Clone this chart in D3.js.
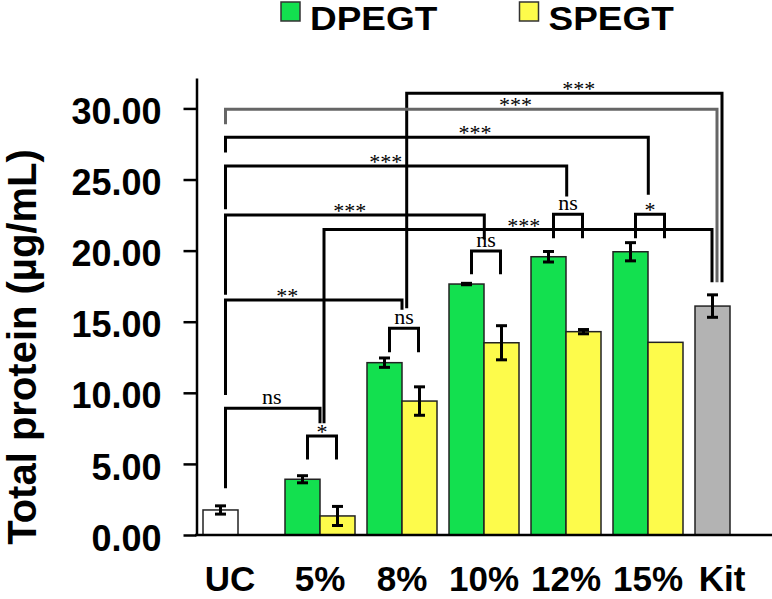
<!DOCTYPE html>
<html>
<head>
<meta charset="utf-8">
<script src="https://cdn.jsdelivr.net/npm/d3@7"></script>
<style>
  html, body { margin: 0; padding: 0; background: #fff; }
  svg { display: block; }
</style>
</head>
<body>
<svg id="chart" width="772" height="599"></svg>
<script>
// ---------------- data ----------------
const categories = ["UC", "5%", "8%", "10%", "12%", "15%", "Kit"];
const seriesNames = ["DPEGT", "SPEGT"];
const groupCats = ["5%", "8%", "10%", "12%", "15%"];
const dpegtValues = [3.92, 12.12, 17.65, 19.57, 19.92];
const dpegtErrors = [0.25, 0.33, 0.05, 0.37, 0.64];
const spegtValues = [1.34, 9.42, 13.52, 14.30, 13.55];
const spegtErrors = [0.67, 1.00, 1.20, 0.15, 0.00];
const controlCats = ["UC", "Kit"];
const controlValues = [1.76, 16.10];
const controlErrors = [0.29, 0.79];
const yTickValues = [0, 5, 10, 15, 20, 25, 30];
const yAxisTitle = "Total protein (µg/mL)";

// significance: pairwise within group (level, leg bottom in data units)
const pairLabels = ["*", "ns", "ns", "ns", "*"];
const pairLevels = [6.96, 14.54, 19.97, 22.56, 22.56];
const pairLegBottoms = [5.41, 12.96, 18.45, 20.98, 20.98];

// long comparisons
const longFrom = ["8%", "UC", "UC", "UC", "UC", "5%", "UC", "UC"];
const longTo = ["Kit", "Kit", "15%", "12%", "10%", "Kit", "8%", "5%"];
const longLevels = [31.06, 29.94, 27.97, 25.95, 22.50, 21.48, 16.53, 8.91];
const longFromBottoms = [16.05, 29.00, 27.00, 23.02, 17.00, 7.97, 9.96, 3.40];
const longToBottoms = [17.88, 17.88, 24.03, 23.91, 20.89, 17.88, 15.94, 7.97];
const longLabels = ["***", "***", "***", "***", "***", "***", "**", "ns"];

// ---------------- layout ----------------
const colors = { DPEGT: "#13e04f", SPEGT: "#fdfb4b", UC: "#ffffff", Kit: "#b3b3b3" };
const longLayout = [
  { dxFrom: 4.7, dxTo: 9.5, t: 0.546, color: "#000" },
  { dxFrom: 5, dxTo: 4.5, t: 0.59, color: "#666" },
  { dxFrom: 5, dxTo: 0.3, t: 0.59, color: "#000" },
  { dxFrom: 5, dxTo: 0.7, t: 0.47, color: "#000" },
  { dxFrom: 5, dxTo: 0.3, t: 0.48, color: "#000" },
  { dxFrom: 4, dxTo: -0.5, t: 0.515, color: "#000" },
  { dxFrom: 5, dxTo: 0, t: 0.35, color: "#000" },
  { dxFrom: 5, dxTo: 0, t: 0.49, color: "#000" }
];

const svg = d3.select("#chart");

const x = d3.scaleBand().domain(categories).range([203, 765])
  .paddingInner(12 / 82).paddingOuter(0);
const xs = d3.scaleBand().domain(seriesNames).range([0, x.bandwidth()]);
const y = d3.scaleLinear().domain([0, 32.14]).range([535, 78]);

const groupCenter = c => x(c) + x.bandwidth() / 2;
const controlCenter = c => x(c) + xs("DPEGT") + xs.bandwidth() / 2;
const catCenter = c => controlCats.includes(c) ? controlCenter(c) : groupCenter(c);

// ---------------- axes ----------------
const yAxis = d3.axisLeft(y).tickValues(yTickValues).tickSize(13).tickSizeOuter(0)
  .tickPadding(22).tickFormat(d3.format(".2f"));
const gy = svg.append("g").attr("transform", "translate(196.5,0)").call(yAxis);
gy.select(".domain").attr("stroke", "#000").attr("stroke-width", 2.5);
gy.selectAll(".tick line").attr("stroke", "#000").attr("stroke-width", 2.5);
gy.selectAll(".tick text")
  .attr("font-family", "Liberation Sans, Arial, sans-serif")
  .attr("font-weight", "bold").attr("font-size", 36).attr("fill", "#000")
  .attr("dy", "0.42em");

// bars
const barG = svg.append("g");
const groupData = groupCats.map((c, i) => ({
  cat: c,
  bars: [
    { s: "DPEGT", v: dpegtValues[i], e: dpegtErrors[i] },
    { s: "SPEGT", v: spegtValues[i], e: spegtErrors[i] }
  ]
}));
const allBars = [];
groupData.forEach(g => g.bars.forEach(b => allBars.push({ cat: g.cat, s: b.s, v: b.v, e: b.e, fill: colors[b.s] })));
controlCats.forEach((c, i) => allBars.push({ cat: c, s: "DPEGT", v: controlValues[i], e: controlErrors[i], fill: colors[c] }));

barG.selectAll("rect").data(allBars).join("rect")
  .attr("x", d => x(d.cat) + xs(d.s))
  .attr("y", d => y(d.v))
  .attr("width", xs.bandwidth())
  .attr("height", d => y(0) - y(d.v))
  .attr("fill", d => d.fill)
  .attr("stroke", "#222").attr("stroke-width", 1.5);

// error bars
const errG = svg.append("g").attr("stroke", "#000").attr("stroke-width", 3);
allBars.filter(d => d.e > 0).forEach(d => {
  const cx = x(d.cat) + xs(d.s) + xs.bandwidth() / 2;
  errG.append("line").attr("x1", cx).attr("x2", cx).attr("y1", y(d.v - d.e)).attr("y2", y(d.v + d.e));
  errG.append("line").attr("x1", cx - 5.5).attr("x2", cx + 5.5).attr("y1", y(d.v - d.e)).attr("y2", y(d.v - d.e));
  errG.append("line").attr("x1", cx - 5.5).attr("x2", cx + 5.5).attr("y1", y(d.v + d.e)).attr("y2", y(d.v + d.e));
});

// x axis
svg.append("line").attr("x1", 195).attr("x2", 772).attr("y1", y(0)).attr("y2", y(0))
  .attr("stroke", "#000").attr("stroke-width", 2.5);
const xAxis = d3.axisBottom(x).tickSize(0).tickPadding(31.5);
const gx = svg.append("g").attr("transform", `translate(0,${y(0)})`).call(xAxis);
gx.select(".domain").remove();
gx.selectAll(".tick text")
  .attr("font-family", "Liberation Sans, Arial, sans-serif")
  .attr("font-weight", "bold").attr("font-size", 35).attr("fill", "#000")
  .attr("x", d => controlCats.includes(d) ? -8 : 0);

// y title
svg.append("text")
  .attr("transform", "translate(36,347) rotate(-90)")
  .attr("text-anchor", "middle")
  .attr("font-family", "Liberation Sans, Arial, sans-serif")
  .attr("font-weight", "bold").attr("font-size", 40).attr("fill", "#000")
  .text(yAxisTitle);

// ---------------- significance brackets ----------------
const sigFont = "Liberation Serif, Times New Roman, serif";
const brG = svg.append("g").attr("fill", "none").attr("stroke-width", 3)
  .attr("stroke-linejoin", "miter").attr("stroke-linecap", "square");
const labG = svg.append("g").attr("font-family", sigFont).attr("font-size", 22)
  .attr("text-anchor", "middle").attr("fill", "#000");

function labelY(label, level) {
  return label.startsWith("*") ? y(level) + 3 : y(level) - 4;
}

groupCats.forEach((c, i) => {
  const xl = x(c) + xs("DPEGT") + xs.bandwidth() / 2 + 5;
  const xr = x(c) + xs("SPEGT") + xs.bandwidth() / 2 - 1;
  brG.append("path").attr("stroke", "#000")
    .attr("d", `M${xl},${y(pairLegBottoms[i])}V${y(pairLevels[i])}H${xr}V${y(pairLegBottoms[i])}`);
  labG.append("text").attr("x", (xl + xr) / 2).attr("y", labelY(pairLabels[i], pairLevels[i]))
    .text(pairLabels[i]);
});

longFrom.forEach((f, i) => {
  const L = longLayout[i];
  const x1 = catCenter(f) + L.dxFrom;
  const x2 = catCenter(longTo[i]) + L.dxTo;
  brG.append("path").attr("stroke", L.color)
    .attr("d", `M${x1},${y(longFromBottoms[i])}V${y(longLevels[i])}H${x2}V${y(longToBottoms[i])}`);
  labG.append("text").attr("x", x1 + (x2 - x1) * L.t).attr("y", labelY(longLabels[i], longLevels[i]))
    .text(longLabels[i]);
});

// ---------------- legend ----------------
const legendX = [281, 519.5];
const lg = svg.append("g");
seriesNames.forEach((s, i) => {
  lg.append("rect").attr("x", legendX[i]).attr("y", 2).attr("width", 19).attr("height", 19)
    .attr("fill", colors[s]).attr("stroke", "#333").attr("stroke-width", 1.5);
  lg.append("text")
    .attr("transform", `translate(${legendX[i] + 29},30) scale(1.12,1)`)
    .attr("font-family", "Liberation Sans, Arial, sans-serif")
    .attr("font-weight", "bold").attr("font-size", 33).attr("fill", "#000")
    .text(s);
});
</script>
</body>
</html>
